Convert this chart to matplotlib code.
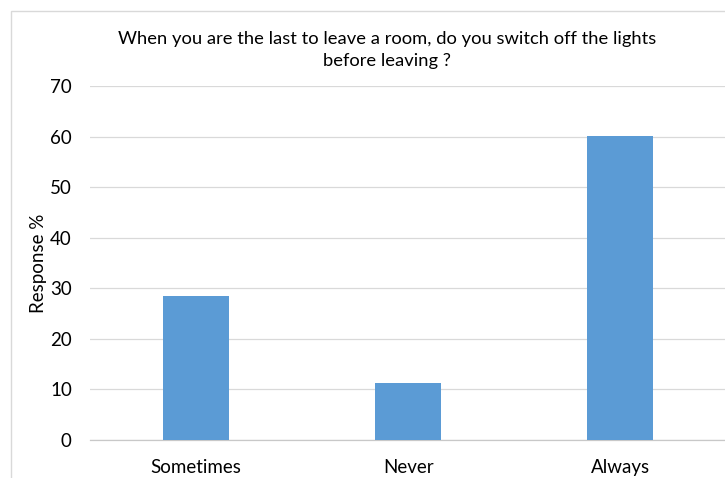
import matplotlib.pyplot as plt
from matplotlib.patches import Rectangle

# Survey responses (percent of respondents)
categories = ['Sometimes', 'Never', 'Always']
responses = [28.5, 11.2, 60.2]
y_ticks = [0, 10, 20, 30, 40, 50, 60, 70]

plt.rcParams['font.family'] = ['Lato', 'DejaVu Sans']

fig = plt.figure(figsize=(7.25, 4.78), dpi=100)
ax = fig.add_axes([0.124, 0.0795, 0.878, 0.7405])

x = range(len(categories))
ax.bar(x, responses, width=0.31, color='#5B9BD5', zorder=3)

ax.set_xlim(-0.5, 2.5)
ax.set_ylim(0, 70)
ax.set_yticks(y_ticks)
ax.set_xticks(list(x))
ax.set_xticklabels(categories, fontsize=13.5, color='#000000')
ax.tick_params(axis='y', labelsize=13.5, length=0, pad=13)
ax.tick_params(axis='x', length=0, pad=13.5)

ax.grid(axis='y', color='#d9d9d9', linewidth=0.9, zorder=0)
for side in ['top', 'right', 'left']:
    ax.spines[side].set_visible(False)
ax.spines['bottom'].set_color('#c8c8c8')
ax.spines['bottom'].set_linewidth(0.9)

ax.set_ylabel('Response %', fontsize=13.5)
ax.yaxis.set_label_coords(-0.068, 0.5)

fig.text(0.534, 0.895,
         'When you are the last to leave a room, do you switch off the lights\nbefore leaving ?',
         ha='center', va='center', fontsize=13.2, linespacing=1.5)

# chart area frame
fig.add_artist(Rectangle((11 / 725, -0.2), 1.2, 1.2 - 11 / 478,
                         transform=fig.transFigure, fill=False,
                         edgecolor='#d9d9d9', linewidth=1))

fig.savefig('out.png', dpi=100)
